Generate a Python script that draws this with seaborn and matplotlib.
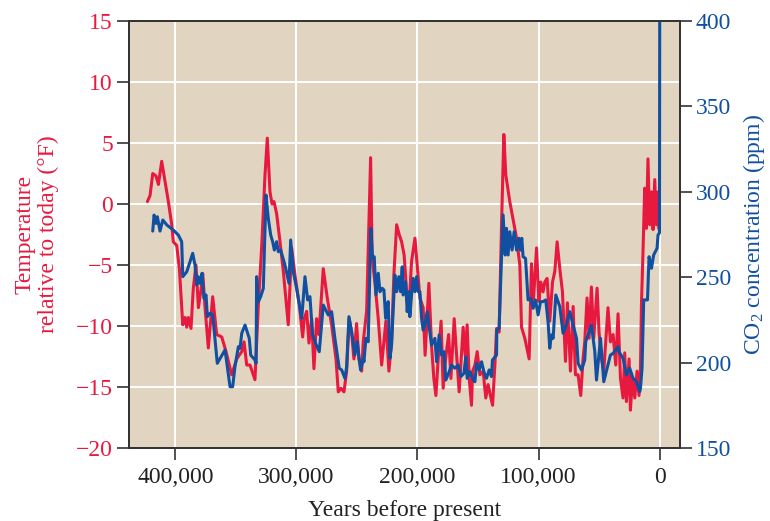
import matplotlib
matplotlib.use("Agg")
import matplotlib.pyplot as plt
import seaborn as sns
import pandas as pd

# Vostok-style ice core record: temperature anomaly and atmospheric CO2
# Ages are thousands of years before present.
temp_age_kyr = [
    423.0, 420.8, 418.6, 415.9, 413.9, 411.2, 408.4, 405.7, 402.9, 401.6,
    398.8, 396.6, 393.8, 391.9, 390.5, 389.2, 387.0, 385.1, 382.9, 380.9,
    379.0, 377.3, 375.4, 372.7, 369.1, 365.8, 361.6, 358.1, 353.4, 349.3,
    345.1, 343.2, 341.0, 338.3, 334.2, 331.4, 328.6, 325.9, 324.0, 321.8,
    320.1, 318.5, 316.3, 313.5, 310.8, 306.7, 303.9, 301.2, 297.6, 294.8,
    293.5, 291.5, 289.6, 287.4, 285.5, 283.3, 281.4, 277.8, 274.5, 270.9,
    267.3, 265.4, 263.2, 260.7, 258.5, 256.4, 254.4, 252.5, 250.3, 248.4,
    246.1, 244.8, 242.0, 240.1, 238.7, 237.4, 235.2, 232.4, 229.6, 226.1,
    223.6, 221.4, 219.5, 217.2, 215.1, 213.1, 211.0, 209.0, 206.9, 204.9,
    202.1, 200.3, 198.0, 195.3, 193.7, 190.6, 188.4, 186.5, 184.8, 182.9,
    180.5, 178.8, 176.8, 174.3, 172.4, 169.7, 167.7, 165.6, 162.3, 160.6,
    159.0, 157.3, 155.4, 154.5, 152.6, 150.7, 148.5, 145.8, 143.6, 141.7,
    138.0, 136.1, 134.7, 132.6, 130.6, 128.7, 127.1, 123.8, 118.2, 115.5,
    114.1, 111.4, 107.8, 105.9, 104.5, 101.7, 99.8, 98.2, 96.3, 94.9,
    93.0, 90.8, 88.5, 86.6, 84.7, 82.5, 80.3, 77.8, 76.2, 73.7,
    71.5, 69.6, 67.4, 65.2, 63.3, 61.9, 60.0, 58.3, 56.4, 54.5,
    51.7, 50.1, 48.1, 46.2, 42.7, 40.7, 38.5, 36.3, 34.4, 32.4,
    30.3, 28.9, 27.5, 25.3, 24.2, 22.5, 20.6, 18.7, 17.1, 15.9,
    15.1, 13.8, 12.4, 11.0, 9.7, 8.3, 6.8, 5.5, 4.1, 2.7,
    1.4, 0.8,
]
temp_anomaly_f = [
    0.2, 0.7, 2.5, 2.3, 1.6, 3.5, 1.8, 0.2, -1.7, -3.1,
    -3.4, -5.3, -9.9, -9.3, -10.1, -9.3, -10.2, -6.9, -5.0, -8.5,
    -7.2, -5.7, -8.5, -11.8, -7.6, -10.7, -10.9, -12.1, -14.0, -12.7,
    -12.1, -11.3, -13.2, -13.2, -14.4, -8.3, -3.4, 2.4, 5.4, 1.0,
    0.0, 0.2, -0.8, -3.1, -5.5, -9.9, -3.6, -5.8, -8.3, -10.9,
    -9.4, -8.8, -11.4, -9.4, -13.5, -9.4, -10.7, -5.3, -7.7, -9.9,
    -12.7, -15.4, -15.1, -15.4, -13.7, -9.4, -10.5, -12.7, -9.8, -12.7,
    -13.7, -11.3, -8.8, -1.7, 3.8, -4.5, -6.4, -9.4, -13.2, -9.6,
    -13.7, -11.3, -5.8, -1.7, -2.5, -3.1, -4.2, -7.2, -8.3, -4.7,
    -2.8, -5.0, -7.7, -8.5, -12.4, -6.5, -11.6, -14.3, -15.7, -12.7,
    -9.6, -15.1, -12.7, -10.7, -14.3, -9.4, -12.4, -15.4, -10.1, -12.4,
    -9.9, -14.3, -16.5, -13.7, -13.2, -12.1, -14.0, -13.7, -15.9, -14.8,
    -16.5, -13.2, -10.2, -10.5, -1.7, 5.7, 2.4, 0.2, -2.8, -5.0,
    -10.1, -11.0, -12.7, -4.9, -8.3, -3.6, -8.0, -6.4, -7.2, -6.4,
    -6.1, -9.6, -6.4, -5.5, -3.1, -5.3, -7.2, -12.9, -8.1, -13.7,
    -8.4, -14.0, -14.0, -15.7, -12.7, -11.3, -7.7, -11.0, -6.8, -11.0,
    -6.9, -10.5, -12.7, -13.7, -8.5, -11.3, -10.7, -13.2, -9.0, -14.3,
    -15.9, -12.2, -16.2, -12.7, -16.9, -14.3, -15.9, -13.7, -15.7, -13.6,
    -8.3, -3.9, 1.3, -2.0, 3.7, -1.7, 1.0, -2.1, 2.0, -1.7,
    1.0, -2.0,
]

co2_age_kyr = [
    418.6, 417.5, 415.9, 414.8, 412.6, 410.3, 407.0, 401.6, 397.5, 394.7,
    393.8, 390.5, 385.6, 383.7, 382.3, 381.0, 379.5, 377.9, 376.3, 374.6,
    373.5, 371.3, 369.1, 365.3, 358.9, 354.8, 352.6, 350.7, 347.9, 346.5,
    345.1, 342.4, 338.9, 337.7, 334.2, 333.3, 332.8, 331.4, 329.5, 327.3,
    325.1, 323.2, 321.2, 319.6, 318.2, 316.3, 314.9, 313.0, 309.4, 306.1,
    304.7, 302.6, 299.8, 295.6, 292.9, 290.7, 288.8, 286.6, 284.1, 281.1,
    277.8, 273.7, 270.9, 268.2, 264.6, 262.6, 259.9, 258.5, 256.6, 254.4,
    251.7, 249.8, 247.0, 244.8, 244.2, 242.6, 240.7, 238.5, 237.1, 235.7,
    234.3, 232.4, 231.0, 229.1, 227.7, 226.3, 224.2, 222.8, 221.4, 218.7,
    217.2, 215.4, 214.0, 212.6, 211.8, 209.8, 208.5, 207.1, 206.3, 204.9,
    203.6, 202.1, 200.7, 199.4, 198.0, 196.6, 195.3, 193.9, 192.0, 190.4,
    188.4, 185.6, 184.2, 182.1, 180.1, 178.2, 176.6, 173.8, 171.9, 169.1,
    166.4, 164.2, 161.7, 160.1, 159.0, 156.8, 154.0, 152.6, 151.2, 149.1,
    147.1, 145.2, 143.0, 140.8, 138.9, 138.1, 134.7, 134.5, 132.6, 130.6,
    129.3, 127.6, 126.5, 125.2, 123.8, 121.9, 120.2, 118.2, 116.3, 114.9,
    113.9, 112.8, 110.8, 108.7, 106.4, 104.5, 102.6, 100.4, 98.4, 96.3,
    94.1, 92.2, 90.8, 89.4, 88.0, 85.8, 82.5, 79.8, 77.0, 74.3,
    71.5, 68.7, 67.4, 64.6, 61.9, 61.1, 56.4, 53.6, 52.2, 48.9,
    46.2, 42.7, 40.7, 38.5, 34.4, 33.6, 30.3, 27.5, 24.8, 22.0,
    19.2, 16.5, 15.9, 14.6, 13.2, 10.1, 8.8, 6.8, 5.0, 2.2,
    1.4, 0.2, 0.0,
]
co2_ppm = [
    277.0, 286.4, 281.5, 285.4, 277.0, 283.5, 280.6, 277.6, 274.7, 270.8,
    250.3, 253.2, 264.0, 257.1, 245.4, 250.3, 246.4, 252.3, 237.6, 239.6,
    226.9, 228.9, 227.9, 199.6, 207.4, 185.9, 185.9, 197.6, 209.3, 208.4,
    217.2, 222.0, 214.2, 204.4, 201.5, 199.6, 250.3, 235.7, 238.6, 243.5,
    298.1, 284.5, 274.7, 270.8, 265.9, 270.8, 264.9, 265.9, 257.1, 246.4,
    271.8, 253.2, 243.5, 225.9, 250.3, 236.7, 238.6, 216.2, 211.3, 206.4,
    233.7, 227.9, 229.8, 214.2, 196.7, 195.7, 190.8, 197.6, 226.9, 218.1,
    204.4, 212.2, 195.7, 202.5, 200.5, 214.2, 212.2, 278.6, 261.0, 262.0,
    239.6, 252.3, 241.5, 243.5, 242.5, 225.9, 235.7, 202.5, 210.3, 251.3,
    241.5, 250.3, 241.5, 256.1, 239.6, 247.4, 229.8, 241.5, 226.9, 239.6,
    249.3, 241.5, 250.3, 241.5, 241.5, 225.9, 219.0, 222.0, 229.8, 221.0,
    210.3, 214.2, 200.5, 216.2, 204.4, 206.4, 189.8, 194.7, 198.6, 196.7,
    198.6, 191.8, 193.7, 203.4, 190.8, 194.7, 189.8, 188.8, 199.6, 195.7,
    200.5, 194.7, 190.8, 195.7, 191.8, 201.5, 204.4, 219.0, 220.0, 262.0,
    286.4, 263.0, 278.6, 263.0, 276.6, 265.9, 276.6, 265.9, 272.8, 265.9,
    272.8, 262.0, 261.0, 236.7, 237.6, 231.8, 236.7, 227.9, 235.7, 235.7,
    236.7, 223.9, 208.4, 216.2, 214.2, 239.6, 232.8, 217.2, 222.0, 229.8,
    222.0, 214.2, 199.6, 195.7, 201.5, 212.2, 222.0, 206.4, 189.8, 214.2,
    188.8, 198.6, 204.4, 205.4, 209.3, 206.4, 202.5, 192.8, 196.7, 190.8,
    188.8, 183.0, 184.9, 196.7, 236.7, 236.7, 262.0, 255.2, 263.0, 266.9,
    274.7, 276.0, 400.0,
]

year_ticks = [400000, 300000, 200000, 100000, 0]
temp_ticks = [-20, -15, -10, -5, 0, 5, 10, 15]
co2_ticks = [150, 200, 250, 300, 350, 400]

RED = "#E8193F"
BLUE = "#1150A0"
TAN = "#E1D5C1"
EDGE = "#333333"
FS = 17

sns.set_theme(style="ticks")
plt.rcParams["font.family"] = ["Liberation Serif", "DejaVu Serif"]
plt.rcParams["mathtext.fontset"] = "custom"
plt.rcParams["mathtext.rm"] = "Liberation Serif"
plt.rcParams["mathtext.it"] = "Liberation Serif:italic"

temp_df = pd.DataFrame({"years": [a * 1000 for a in temp_age_kyr],
                        "temp": temp_anomaly_f})
co2_df = pd.DataFrame({"years": [a * 1000 for a in co2_age_kyr],
                       "co2": co2_ppm})

fig = plt.figure(figsize=(7.70, 5.21), dpi=100)
ax = fig.add_axes([129 / 770, 1 - 448 / 521, (680 - 129) / 770, (448 - 21) / 521])
ax.set_facecolor(TAN)

sns.lineplot(data=temp_df, x="years", y="temp", ax=ax, color=RED, lw=2.2,
             estimator=None, sort=False)

ax2 = ax.twinx()
sns.lineplot(data=co2_df, x="years", y="co2", ax=ax2, color=BLUE, lw=2.2,
             estimator=None, sort=False)

ax.set_xlim(438200, -16750)
ax.set_ylim(-20, 15)
ax2.set_ylim(150, 400)

ax.set_xticks(year_ticks)
ax.set_xticklabels([f"{v:,}" for v in year_ticks])
ax.set_yticks(temp_ticks)
ax.set_yticklabels([f"{v}".replace("-", "\u2212") for v in temp_ticks])
ax2.set_yticks(co2_ticks)

ax.grid(True, color="white", lw=1.4)
ax.set_axisbelow(True)
ax2.grid(False)

for a in (ax, ax2):
    for s in a.spines.values():
        s.set_color(EDGE)
        s.set_linewidth(1.3)
        s.set_visible(True)

ax.tick_params(axis="both", direction="out", length=8.5, width=1.2,
               color=EDGE, labelsize=FS, pad=3)
ax.tick_params(axis="y", labelcolor=RED)
ax.tick_params(axis="x", labelcolor="#222222", pad=5)
ax2.tick_params(axis="y", direction="out", length=8.5, width=1.2,
                color=EDGE, labelsize=FS, labelcolor=BLUE, pad=3)

ax.set_xlabel("Years before present", fontsize=FS, color="#222222", labelpad=9)
ax.set_ylabel("Temperature\nrelative to today (\u00b0F)", fontsize=FS,
              color=RED, labelpad=12, linespacing=1.15)
ax2.set_ylabel(r"CO$_{\mathrm{2}}$ concentration (ppm)", fontsize=FS,
               color=BLUE, labelpad=7)

fig.savefig("out.png", dpi=100)
